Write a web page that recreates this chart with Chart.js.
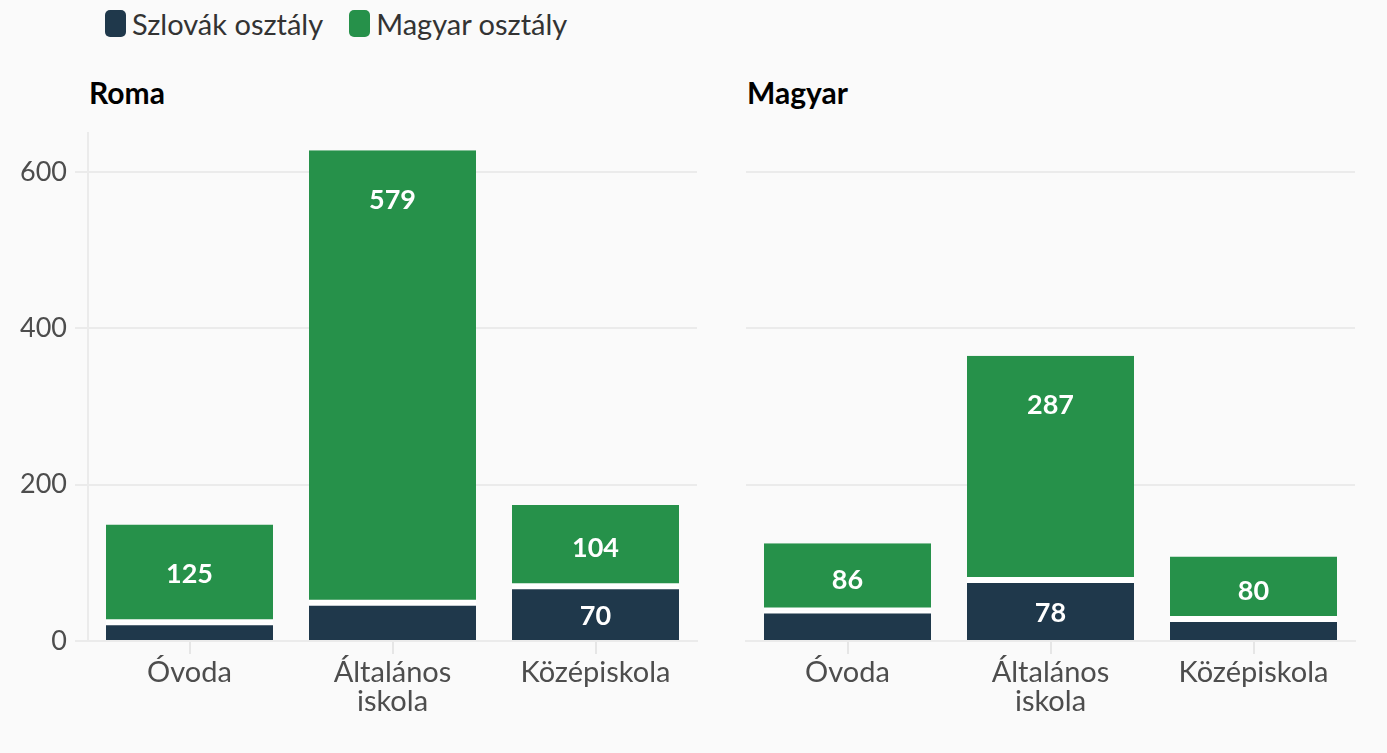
<!DOCTYPE html>
<html>
<head>
<meta charset="utf-8">
<script src="https://cdn.jsdelivr.net/npm/chart.js@4.4.1/dist/chart.umd.min.js"></script>
<style>
  html, body { margin: 0; padding: 0; background: #fafafa; }
  body { width: 1387px; height: 753px; position: relative; overflow: hidden; font-family: Lato, sans-serif; }
  .legend { position: absolute; left: 105px; top: 9px; display: flex; align-items: center; font-size: 29px; line-height: 29px; color: #333; }
  .legend .item { display: flex; align-items: center; margin-right: 26px; }
  .legend i { display: inline-block; width: 21px; height: 27px; border-radius: 5px; margin-right: 6px; }
  .title { position: absolute; top: 74px; font-weight: bold; font-size: 30px; line-height: 1.2; color: #000; }
  canvas { position: absolute; top: 0; }
</style>
</head>
<body>
<div class="legend" id="legend"></div>
<div class="title" id="titleLeft" style="left:89px"></div>
<div class="title" id="titleRight" style="left:747px"></div>
<canvas id="romaChart" width="700" height="753" style="left:0"></canvas>
<canvas id="magyarChart" width="687" height="753" style="left:700px"></canvas>
<script>
const categories = ['Óvoda', ['Általános', 'iskola'], 'Középiskola'];
const seriesNames = ['Szlovák osztály', 'Magyar osztály'];
const seriesColors = ['#1f384b', '#26914a'];
const panelTitles = ['Roma', 'Magyar'];

const romaSzlovak = [24, 49, 70];
const romaMagyar = [125, 579, 104];
const magyarSzlovak = [39, 78, 28];
const magyarMagyar = [86, 287, 80];

const yTicks = [0, 200, 400, 600];
const yMax = 650;
const labelMin = 50; // small segments stay unlabeled

document.getElementById('legend').innerHTML = seriesNames
    .map((name, i) => `<span class="item"><i style="background:${seriesColors[i]}"></i>${name}</span>`)
    .join('');
document.getElementById('titleLeft').textContent = panelTitles[0];
document.getElementById('titleRight').textContent = panelTitles[1];

// white numbers inside the bars, pinned near the top for tall bars
const barLabels = {
    id: 'barLabels',
    afterDatasetsDraw(chart) {
        const ctx = chart.ctx;
        ctx.save();
        ctx.font = 'bold 27px Lato';
        ctx.fillStyle = '#ffffff';
        ctx.textAlign = 'center';
        ctx.textBaseline = 'middle';
        chart.data.datasets.forEach((ds, i) => {
            chart.getDatasetMeta(i).data.forEach((bar, j) => {
                const v = ds.data[j];
                if (v < labelMin) return;
                const y = Math.min((bar.y + bar.base) / 2 + 3, bar.y + 50);
                ctx.fillText(String(v), bar.x, y);
            });
        });
        ctx.restore();
    }
};

function makeChart(id, szlovak, magyar, withAxis, padLeft, padRight, axisWidth) {
    return new Chart(document.getElementById(id), {
        type: 'bar',
        data: {
            labels: categories,
            datasets: [
                {
                    label: seriesNames[0],
                    data: szlovak,
                    backgroundColor: seriesColors[0],
                    borderColor: '#ffffff',
                    borderWidth: {top: 3, bottom: 0, left: 0, right: 0},
                    borderSkipped: false
                },
                {
                    label: seriesNames[1],
                    data: magyar,
                    backgroundColor: seriesColors[1],
                    borderColor: '#ffffff',
                    borderWidth: {top: 0, bottom: 3, left: 0, right: 0},
                    borderSkipped: false
                }
            ]
        },
        options: {
            responsive: false,
            animation: false,
            layout: {padding: {top: 133, left: padLeft, right: padRight, bottom: 0}},
            plugins: {legend: {display: false}, tooltip: {enabled: false}},
            datasets: {bar: {categoryPercentage: 1, barPercentage: 0.823}},
            scales: {
                x: {
                    stacked: true,
                    grid: {drawOnChartArea: false, offset: false, tickLength: 13, color: '#e6e6e6', lineWidth: 2},
                    border: {color: '#ebebeb', width: 2},
                    ticks: {color: '#4d4d4d', font: {family: 'Lato', size: 29, lineHeight: 1.0}, padding: 4, maxRotation: 0, autoSkip: false},
                    afterFit(s) { s.height = 112; }
                },
                y: {
                    stacked: true,
                    min: 0,
                    max: yMax,
                    afterBuildTicks(s) { s.ticks = yTicks.map(v => ({value: v})); },
                    grid: {color: '#ebebeb', lineWidth: 2, drawTicks: withAxis, tickLength: withAxis ? 13 : 0},
                    border: {display: withAxis, color: '#ebebeb', width: 2},
                    ticks: {display: withAxis, color: '#4d4d4d', font: {family: 'Lato', size: 27}, padding: 8},
                    afterFit(s) { s.width = axisWidth; }
                }
            }
        },
        plugins: [barLabels]
    });
}

makeChart('romaChart', romaSzlovak, romaMagyar, true, 20, 3, 68);
makeChart('magyarChart', magyarSzlovak, magyarMagyar, false, 0, 32, 46);
</script>
</body>
</html>
